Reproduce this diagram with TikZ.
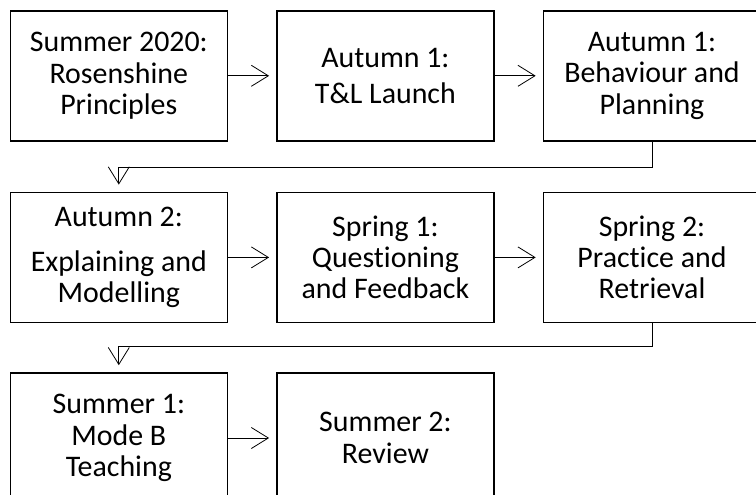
\documentclass[tikz,border=0pt]{standalone}
\usepackage{fontspec}
\setmainfont{Carlito}[Ligatures=NoCommon]
\usetikzlibrary{arrows.meta,positioning}

\begin{document}
\begin{tikzpicture}[
  stage/.style={
    draw,
    line width=1.6bp,
    minimum width=217bp,
    minimum height=130bp,
    align=center,
    inner sep=0pt,
    font=\fontsize{30}{31.5}\selectfont
  },
  link/.style={-{Straight Barb[length=17bp,width=21bp]},line width=0.8bp,shorten >=7bp}
]
  \useasboundingbox (0,0) rectangle (756bp,-495bp);

  % first row
  \node[stage,anchor=north west] (rosen) at (9.5bp,-10bp) {Summer 2020:\\Rosenshine\\Principles};
  \node[stage,right=48bp of rosen] (launch) {Autumn 1:\\[5bp]T\&L Launch};
  \node[stage,right=48bp of launch] (plan) {Autumn 1:\\Behaviour and\\Planning};

  % second row
  \node[stage,below=50bp of rosen] (explain) {Autumn 2:\\[14bp]Explaining and\\Modelling};
  \node[stage,right=48bp of explain] (question) {Spring 1:\\Questioning\\and Feedback};
  \node[stage,right=48bp of question] (practice) {Spring 2:\\Practice and\\Retrieval};

  % third row
  \node[stage,below=49bp of explain] (modeb) {Summer 1:\\Mode B\\Teaching};
  \node[stage,right=48bp of modeb] (review) {Summer 2:\\Review};

  \draw[link] (rosen) -- (launch);
  \draw[link] (launch) -- (plan);
  \draw[link] (plan.south) -- ++(0,-26bp) -| (explain.north);
  \draw[link] (explain) -- (question);
  \draw[link] (question) -- (practice);
  \draw[link] (practice.south) -- ++(0,-23bp) -| (modeb.north);
  \draw[link] (modeb) -- (review);
\end{tikzpicture}
\end{document}
